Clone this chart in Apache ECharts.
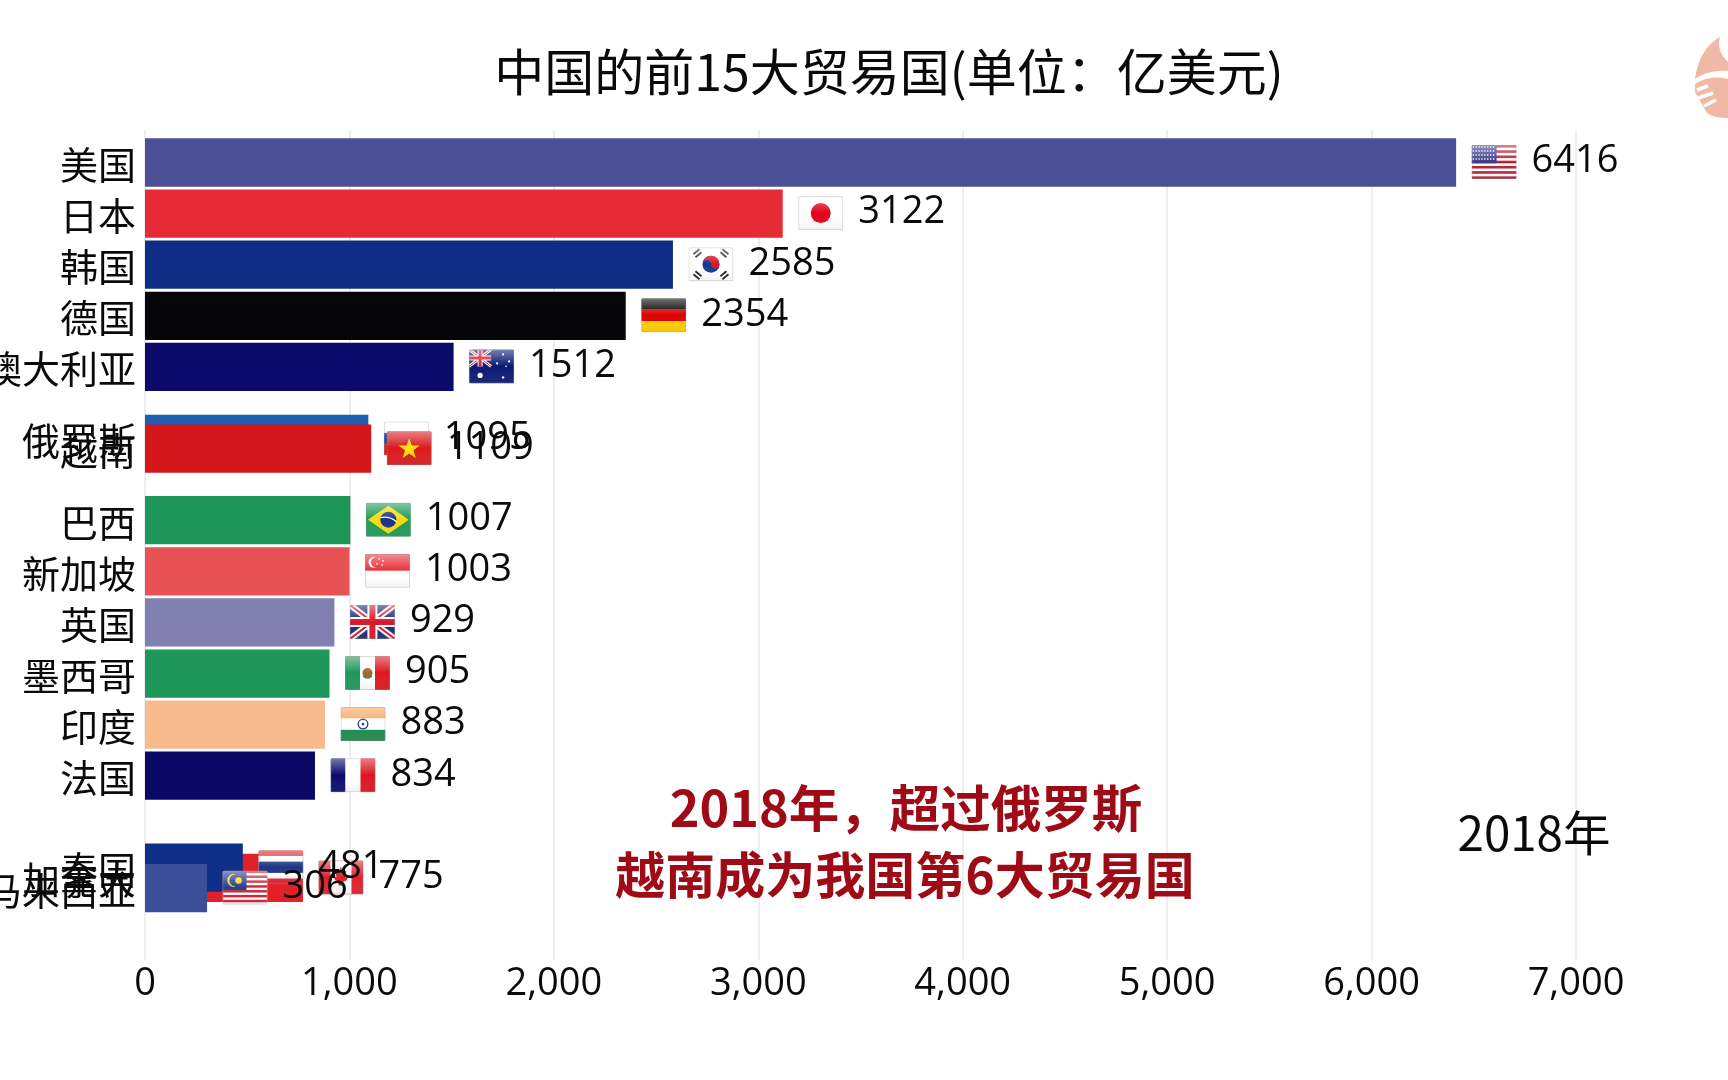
<!DOCTYPE html>
<html>
<head>
<meta charset="utf-8">
<style>html,body{margin:0;padding:0;background:#fff}#c{width:1728px;height:1080px}</style>
<script src="https://cdn.jsdelivr.net/npm/echarts@6/dist/echarts.min.js"></script>
</head>
<body>
<div id="c"></div>
<script>
// Data (drawn in this order, later ones on top)
const countries = ['美国','日本','韩国','德国','澳大利亚','俄罗斯','越南','巴西','新加坡','英国','墨西哥','印度','法国','加拿大','泰国','马来西亚'];
const values    = [6416,3122,2585,2354,1512,1095,1109,1007,1003,929,905,883,834,775,481,306];
const ranks     = [0,1,2,3,4,5.41,5.6,7,8,9,10,11,12,14,13.8,14.2];
const barColors = ['#4A4F96','#E52C36','#0E2E86','#060508','#0A0A6A','#1E5DB0','#D5171C','#1E965A','#E85254','#8080B0','#1E965A','#F6BA8D','#0A0A66','#E2202A','#0F2E88','#3A4F9A'];
const xTicks    = [0,1000,2000,3000,4000,5000,6000,7000];
const titleText = '中国的前15大贸易国(单位：亿美元)';
const noteLines = ['2018年，超过俄罗斯','越南成为我国第6大贸易国'];
const yearText  = '2018年';

// Flag artwork (viewBox 45x34), one per country
const flagArt = {
 '美国':'<rect width="45" height="34" fill="#fff"/>'+[0,2,4,6,8,10,12].map(i=>`<rect y="${i*2.615}" width="45" height="2.615" fill="#B22234"/>`).join('')+'<rect width="25" height="18.3" fill="#3C3B8E"/><path d="M1 2h23M1 6h23M1 10h23M1 14h23" stroke="#fff" stroke-width="1.3" stroke-dasharray="1.3 1.6"/>',
 '日本':'<rect width="45" height="34" fill="#fff"/><circle cx="22.5" cy="17" r="10" fill="#E3001B"/>',
 '韩国':'<rect width="45" height="34" fill="#fff"/><circle cx="22.5" cy="17" r="8.5" fill="#0E3A94"/><path d="M14 17a8.5 8.5 0 0 1 17 0a4.25 4.25 0 0 1-8.5 0a4.25 4.25 0 0 0-8.5 0z" fill="#D8172A"/><path d="M5 7l6-5M7 10l6-5M32 5l6 5M34 2l6 5M5 27l6 5M7 24l6 5M32 29l6-5M34 32l6-5" stroke="#222" stroke-width="1.8"/>',
 '德国':'<rect width="45" height="11.4" fill="#000"/><rect y="11.4" width="45" height="11.3" fill="#DD0000"/><rect y="22.7" width="45" height="11.3" fill="#FFCE00"/>',
 '澳大利亚':'<rect width="45" height="34" fill="#0A1A72"/><path d="M0 0l22 17M22 0L0 17" stroke="#fff" stroke-width="3"/><path d="M0 0l22 17M22 0L0 17" stroke="#D8172A" stroke-width="1"/><path d="M11 0v17M0 8.5h22" stroke="#fff" stroke-width="5"/><path d="M11 0v17M0 8.5h22" stroke="#D8172A" stroke-width="3"/><circle cx="11" cy="26" r="2.6" fill="#fff"/><circle cx="34" cy="5" r="1.1" fill="#fff"/><circle cx="34" cy="28" r="1.2" fill="#fff"/><circle cx="28" cy="14" r="1.1" fill="#fff"/><circle cx="40" cy="12" r="1.1" fill="#fff"/><circle cx="37" cy="17" r=".8" fill="#fff"/>',
 '俄罗斯':'<rect width="45" height="11.4" fill="#fff"/><rect y="11.4" width="45" height="11.3" fill="#1C4FA8"/><rect y="22.7" width="45" height="11.3" fill="#D5171C"/>',
 '越南':'<rect width="45" height="34" fill="#DA1A1E"/><path d="M22.5 7l2.6 7.4h7.9l-6.3 4.8 2.3 7.6-6.5-4.5-6.5 4.5 2.3-7.6-6.3-4.8h7.9z" fill="#FFE000"/>',
 '巴西':'<rect width="45" height="34" fill="#1E9A55"/><path d="M22.5 3L43 17 22.5 31 2 17z" fill="#F6DB12"/><circle cx="22.5" cy="17" r="8" fill="#1C2F8F"/><path d="M14.5 15q9-2 16 4" stroke="#fff" stroke-width="1.2" fill="none"/>',
 '新加坡':'<rect width="45" height="17" fill="#E8313A"/><rect y="17" width="45" height="17" fill="#fff"/><circle cx="9" cy="8.5" r="5.5" fill="#fff"/><circle cx="11" cy="8.5" r="5.2" fill="#E8313A"/><circle cx="14" cy="5" r=".9" fill="#fff"/><circle cx="18" cy="7" r=".9" fill="#fff"/><circle cx="12" cy="10" r=".9" fill="#fff"/><circle cx="17" cy="11" r=".9" fill="#fff"/>',
 '英国':'<rect width="45" height="34" fill="#1A2A78"/><path d="M0 0l45 34M45 0L0 34" stroke="#fff" stroke-width="6"/><path d="M0 0l45 34M45 0L0 34" stroke="#D8172A" stroke-width="2"/><path d="M22.5 0v34M0 17h45" stroke="#fff" stroke-width="10"/><path d="M22.5 0v34M0 17h45" stroke="#D8172A" stroke-width="6"/>',
 '墨西哥':'<rect width="15" height="34" fill="#1E965A"/><rect x="15" width="15" height="34" fill="#fff"/><rect x="30" width="15" height="34" fill="#DD1620"/><circle cx="22.5" cy="17" r="5" fill="#9A6B30"/><path d="M18 20q4.5 4 9 0" stroke="#2E8B57" stroke-width="1.5" fill="none"/>',
 '印度':'<rect width="45" height="11.4" fill="#F7A860"/><rect y="11.4" width="45" height="11.3" fill="#fff"/><rect y="22.7" width="45" height="11.3" fill="#1E8A4C"/><circle cx="22.5" cy="17" r="4.8" fill="none" stroke="#27408F" stroke-width="1.4"/><circle cx="22.5" cy="17" r="1.4" fill="#27408F"/>',
 '法国':'<rect width="15" height="34" fill="#0A0A6E"/><rect x="15" width="15" height="34" fill="#fff"/><rect x="30" width="15" height="34" fill="#DE1520"/>',
 '加拿大':'<rect width="45" height="34" fill="#E2202A"/><rect x="12" width="21" height="34" fill="#fff"/><path d="M22.5 6l2.5 5 3-1-1 7 3-1-2 4-3 1v4h-5v-4l-3-1-2-4 3 1-1-7 3 1z" fill="#E2202A"/>',
 '泰国':'<rect width="45" height="34" fill="#DE2230"/><rect y="5.7" width="45" height="22.6" fill="#fff"/><rect y="11.4" width="45" height="11.3" fill="#1F3684"/>',
 '马来西亚':'<rect width="45" height="34" fill="#fff"/>'+[0,2,4,6,8,10,12].map(i=>`<rect y="${i*2.43}" width="45" height="2.43" fill="#CE2030"/>`).join('')+'<rect width="24" height="19.5" fill="#27408F"/><path d="M13 3.5a6.5 6.5 0 1 0 0 12.5a5.2 5.2 0 1 1 0-12.5z" fill="#FFD92E"/><circle cx="16" cy="9.8" r="3.2" fill="#FFD92E"/>'
};
function flagUri(name){
  const svg = `<svg xmlns="http://www.w3.org/2000/svg" width="45" height="34" viewBox="0 0 45 34"><defs><linearGradient id="g" x1="0" y1="0" x2="0" y2="1"><stop offset="0" stop-color="#fff" stop-opacity=".45"/><stop offset=".5" stop-color="#fff" stop-opacity="0"/><stop offset="1" stop-color="#888" stop-opacity=".12"/></linearGradient><clipPath id="r"><rect width="45" height="34" rx="1.5"/></clipPath></defs><g clip-path="url(#r)">${flagArt[name]}<rect width="45" height="34" fill="url(#g)"/><rect x=".5" y=".5" width="44" height="33" fill="none" stroke="#999" stroke-opacity=".35"/></g></svg>`;
  return 'data:image/svg+xml;charset=utf-8,'+encodeURIComponent(svg);
}
const logoSvg = '<svg xmlns="http://www.w3.org/2000/svg" width="33" height="83" viewBox="1695 36 33 83"><path d="M1720 37C1705 45 1697 62 1695 79C1705 72 1718 70 1728 71L1728 62C1721 56 1717 46 1720 37Z" fill="#EFB9A6"/><path d="M1695 84C1705 77 1718 76 1728 79L1728 118C1720 118 1712 117 1707 113L1695 92Z" fill="#EFB9A6"/><path d="M1697 90L1708 86M1698 98L1713 93M1704 106L1716 100" stroke="#fff" stroke-width="3.5" fill="none"/></svg>';

const FONT = '"Noto Sans CJK SC","Noto Sans",sans-serif';
const LATIN = '"Open Sans","Noto Sans CJK SC",sans-serif';

const rows = countries.map((c,i)=>[values[i],ranks[i],i]);

function renderItem(params, api){
  const i = api.value(2);
  const v = api.value(0), r = api.value(1);
  const start = api.coord([0,r]);
  const end = api.coord([v,r]);
  const h = api.size([0,1])[1]*0.945;
  const w = end[0]-start[0]-0.5;
  return {type:'group',children:[
    {type:'rect',shape:{x:start[0],y:start[1]-h/2,width:w,height:h},style:{fill:barColors[i]}},
    {type:'image',style:{image:flagUri(countries[i]),x:end[0]+15,y:start[1]-17.5,width:45,height:34}},
    {type:'text',style:{text:String(v),x:end[0]+75,y:start[1]-1,verticalAlign:'middle',align:'left',font:'38px '+LATIN,fill:'#0a0a0a'}},
    {type:'text',style:{text:countries[i],x:start[0]-9,y:start[1]+2,verticalAlign:'middle',align:'right',font:'38px '+FONT,fill:'#0a0a0a'}}
  ]};
}

const chart = echarts.init(document.getElementById('c'),null,{renderer:'canvas'});
chart.setOption({
  animation:false,
  backgroundColor:'#fff',
  grid:{left:145,right:152,top:130,bottom:120,containLabel:false},
  xAxis:{type:'value',min:xTicks[0],max:xTicks[xTicks.length-1],interval:1000,
    axisLine:{show:false},axisTick:{show:false},
    splitLine:{show:true,lineStyle:{color:'#E8E8EE',width:1.5}},
    axisLabel:{fontSize:38,color:'#0a0a0a',fontFamily:LATIN,margin:5,hideOverlap:false}},
  yAxis:{type:'value',inverse:true,min:-0.636,max:15.606,show:false},
  series:[{type:'custom',coordinateSystem:'cartesian2d',renderItem,clip:false,data:rows,encode:{x:0,y:1}}],
  graphic:[
    {type:'text',z:50,style:{text:titleText,x:889,y:72,align:'center',verticalAlign:'middle',font:'50px '+FONT,fill:'#0a0a0a'}},
    {type:'text',z:50,style:{text:noteLines[0],x:906,y:808,align:'center',verticalAlign:'middle',font:'bold 50.5px '+FONT,fill:'#9E0B16'}},
    {type:'text',z:50,style:{text:noteLines[1],x:905,y:875,align:'center',verticalAlign:'middle',font:'bold 50px '+FONT,fill:'#9E0B16'}},
    {type:'text',z:50,style:{text:yearText,x:1534,y:833,align:'center',verticalAlign:'middle',font:'47.5px '+FONT,fill:'#0a0a0a'}},
    {type:'image',z:50,style:{image:'data:image/svg+xml;charset=utf-8,'+encodeURIComponent(logoSvg),x:1695,y:36,width:33,height:83}}
  ]
});
</script>
</body>
</html>
